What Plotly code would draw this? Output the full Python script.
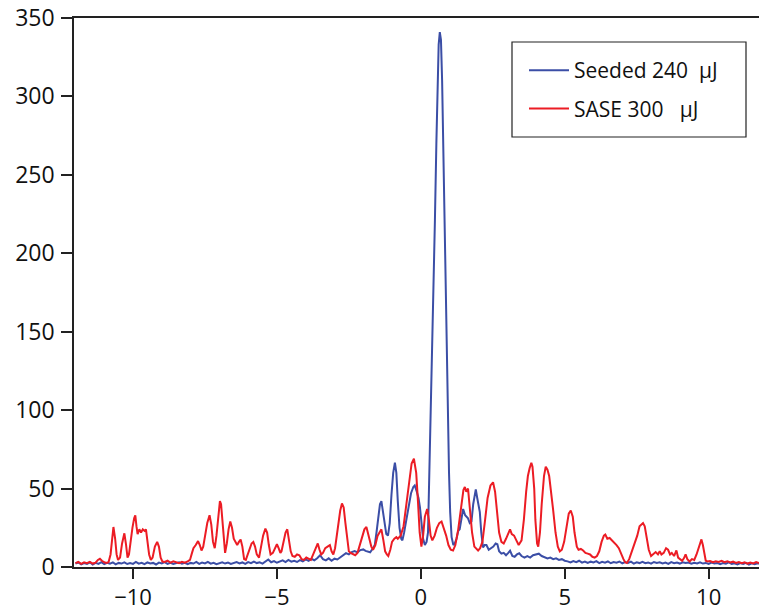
import plotly.graph_objects as go

# ---------------- data ----------------
seeded_x = [-12.00, -11.90, -11.80, -11.70, -11.60, -11.50, -11.40, -11.30, -11.20, -11.10,
            -11.00, -10.90, -10.80, -10.70, -10.60, -10.50, -10.40, -10.30, -10.20, -10.10,
            -10.00, -9.90, -9.80, -9.70, -9.60, -9.50, -9.40, -9.30, -9.20, -9.10,
            -9.00, -8.90, -8.80, -8.70, -8.60, -8.50, -8.40, -8.30, -8.20, -8.10,
            -8.00, -7.90, -7.80, -7.70, -7.60, -7.50, -7.40, -7.30, -7.20, -7.10,
            -7.00, -6.90, -6.80, -6.70, -6.60, -6.50, -6.40, -6.30, -6.20, -6.10,
            -6.00, -5.90, -5.80, -5.70, -5.60, -5.50, -5.40, -5.30, -5.20, -5.10,
            -5.00, -4.90, -4.80, -4.70, -4.60, -4.50, -4.40, -4.30, -4.20, -4.10,
            -4.00, -3.90, -3.80, -3.70, -3.60, -3.50, -3.40, -3.30, -3.20, -3.10,
            -3.00, -2.90, -2.80, -2.70, -2.60, -2.50, -2.40, -2.30, -2.20, -2.10,
            -2.00, -1.92, -1.84, -1.76, -1.68, -1.60, -1.54, -1.48, -1.42, -1.37,
            -1.32, -1.26, -1.20, -1.14, -1.08, -1.02, -0.96, -0.90, -0.85, -0.80,
            -0.74, -0.68, -0.64, -0.58, -0.50, -0.42, -0.34, -0.26, -0.21, -0.14,
            -0.08, -0.03, 0.02, 0.08, 0.14, 0.20, 0.25, 0.28, 0.32, 0.36,
            0.40, 0.45, 0.49, 0.54, 0.58, 0.62, 0.66, 0.70, 0.74, 0.78,
            0.82, 0.86, 0.90, 0.94, 0.98, 1.02, 1.07, 1.13, 1.18, 1.24,
            1.30, 1.35, 1.41, 1.47, 1.54, 1.64, 1.70, 1.76, 1.82, 1.87,
            1.91, 1.96, 2.05, 2.10, 2.16, 2.22, 2.28, 2.36, 2.44, 2.52,
            2.60, 2.66, 2.72, 2.80, 2.88, 2.96, 3.04, 3.10, 3.18, 3.26,
            3.34, 3.42, 3.50, 3.60, 3.70, 3.80, 3.90, 4.00, 4.10, 4.20,
            4.30, 4.40, 4.50, 4.60, 4.70, 4.80, 4.90, 5.00, 5.10, 5.20,
            5.30, 5.40, 5.50, 5.60, 5.70, 5.80, 5.90, 6.00, 6.10, 6.20,
            6.30, 6.40, 6.50, 6.60, 6.70, 6.80, 6.90, 7.00, 7.10, 7.20,
            7.30, 7.40, 7.50, 7.60, 7.70, 7.80, 7.90, 8.00, 8.10, 8.20,
            8.30, 8.40, 8.50, 8.60, 8.70, 8.80, 8.90, 9.00, 9.10, 9.20,
            9.30, 9.40, 9.50, 9.60, 9.70, 9.80, 9.90, 10.00, 10.10, 10.20,
            10.30, 10.40, 10.50, 10.60, 10.70, 10.80, 10.90, 11.00, 11.10, 11.20,
            11.30, 11.40, 11.50, 11.60, 11.70, 11.75]
seeded_y = [2.2, 2.9, 1.7, 2.5, 1.9, 3.0, 1.6, 2.6, 2.0, 3.1,
            1.8, 2.7, 2.1, 2.9, 1.7, 2.6, 2.2, 3.0, 1.9, 2.5,
            2.0, 3.2, 2.1, 2.7, 1.8, 2.9, 2.2, 2.6, 1.6, 2.8,
            2.3, 3.1, 2.0, 2.6, 1.9, 2.4, 3.0, 2.1, 2.7, 1.8,
            2.6, 2.2, 3.2, 2.0, 2.8, 2.3, 3.3, 2.1, 2.7, 1.8,
            2.5, 3.0, 2.2, 2.8, 1.9, 2.6, 3.2, 2.3, 2.9, 2.0,
            3.1, 2.4, 3.4, 2.5, 3.0, 2.2, 3.6, 4.8, 3.0, 3.8,
            2.7, 3.5, 4.2, 3.1, 4.5, 3.4, 4.0, 3.2, 4.4, 3.6,
            4.8, 3.9, 5.2, 4.3, 5.6, 7.5, 5.0, 4.2, 5.5, 4.0,
            5.3, 4.8, 6.0, 7.5, 8.8, 8.0, 9.5, 10.2, 9.3, 10.8,
            11.2, 10.3, 10.0, 9.4, 11.5, 14.0, 22.0, 32.0, 40.0, 42.0,
            36.0, 26.0, 21.0, 20.0, 28.0, 46.0, 60.0, 66.5, 60.0, 42.0,
            25.0, 18.0, 17.0, 22.0, 30.0, 40.0, 47.0, 51.0, 52.0, 48.0,
            44.0, 38.0, 30.0, 18.0, 14.0, 16.0, 22.0, 45.0, 80.0, 110.0,
            145.0, 190.0, 221.0, 270.0, 310.0, 333.0, 341.0, 336.0, 310.0, 270.0,
            220.0, 170.0, 125.0, 95.0, 60.0, 35.0, 19.0, 14.0, 15.0, 18.0,
            23.0, 24.0, 32.0, 37.0, 33.0, 31.0, 28.0, 29.0, 40.0, 47.0,
            49.5, 44.0, 35.0, 22.0, 12.5, 14.0, 14.0, 11.0, 12.0, 13.0,
            15.0, 14.5, 10.0, 8.5, 9.0, 7.5, 9.0, 10.4, 7.0, 6.5,
            8.0, 8.7, 7.0, 6.0, 7.0, 6.0, 7.5, 8.0, 8.5, 7.0,
            6.0, 5.5, 6.0, 5.0, 5.5, 4.5, 5.0, 4.0, 3.6, 2.9,
            3.8, 3.1, 4.0, 2.8, 3.5, 2.6, 3.4, 2.9, 3.7, 2.5,
            3.3, 2.8, 3.6, 2.4, 3.2, 2.7, 3.5, 2.3, 3.1, 2.6,
            3.4, 2.2, 3.0, 2.5, 3.3, 2.4, 2.9, 2.1, 3.2, 2.6,
            3.0, 2.3, 2.8, 2.0, 3.1, 2.4, 2.9, 2.2, 3.0, 2.5,
            2.8, 2.1, 2.7, 2.3, 3.0, 2.2, 2.6, 1.9, 2.8, 2.3,
            2.6, 1.8, 2.5, 2.1, 2.9, 2.0, 2.4, 1.7, 2.5, 1.9,
            2.6, 1.5, 2.3, 1.8, 2.4, 2.0]

sase_x = [-12.00, -11.90, -11.80, -11.70, -11.60, -11.50, -11.40, -11.30, -11.22, -11.15,
          -11.08, -11.00, -10.92, -10.85, -10.78, -10.72, -10.68, -10.62, -10.57, -10.52,
          -10.45, -10.38, -10.30, -10.24, -10.19, -10.14, -10.08, -10.02, -9.96, -9.92,
          -9.88, -9.84, -9.78, -9.72, -9.66, -9.60, -9.55, -9.50, -9.44, -9.38,
          -9.32, -9.24, -9.16, -9.10, -9.04, -8.98, -8.90, -8.80, -8.70, -8.60,
          -8.50, -8.40, -8.30, -8.20, -8.10, -8.02, -7.95, -7.90, -7.82, -7.74,
          -7.68, -7.62, -7.56, -7.50, -7.42, -7.34, -7.28, -7.22, -7.16, -7.10,
          -7.04, -6.98, -6.94, -6.90, -6.84, -6.80, -6.74, -6.68, -6.62, -6.56,
          -6.50, -6.44, -6.38, -6.32, -6.26, -6.20, -6.14, -6.08, -6.02, -5.95,
          -5.88, -5.82, -5.76, -5.70, -5.62, -5.56, -5.48, -5.40, -5.34, -5.28,
          -5.22, -5.14, -5.06, -5.00, -4.94, -4.88, -4.84, -4.78, -4.70, -4.64,
          -4.58, -4.52, -4.46, -4.38, -4.30, -4.22, -4.14, -4.06, -3.98, -3.90,
          -3.82, -3.74, -3.66, -3.58, -3.52, -3.46, -3.40, -3.32, -3.24, -3.16,
          -3.10, -3.04, -2.98, -2.92, -2.86, -2.80, -2.74, -2.68, -2.62, -2.56,
          -2.50, -2.44, -2.36, -2.28, -2.20, -2.12, -2.04, -1.96, -1.89, -1.84,
          -1.78, -1.72, -1.66, -1.58, -1.50, -1.42, -1.37, -1.30, -1.24, -1.18,
          -1.13, -1.06, -1.00, -0.92, -0.85, -0.80, -0.70, -0.60, -0.50, -0.40,
          -0.32, -0.24, -0.16, -0.10, -0.04, 0.02, 0.08, 0.14, 0.22, 0.28,
          0.34, 0.40, 0.48, 0.56, 0.64, 0.72, 0.80, 0.88, 0.96, 1.04,
          1.12, 1.20, 1.30, 1.40, 1.48, 1.53, 1.58, 1.64, 1.70, 1.78,
          1.86, 1.94, 1.99, 2.06, 2.14, 2.22, 2.32, 2.42, 2.51, 2.58,
          2.64, 2.72, 2.80, 2.88, 2.96, 3.04, 3.10, 3.16, 3.24, 3.32,
          3.40, 3.50, 3.58, 3.66, 3.72, 3.78, 3.84, 3.88, 3.94, 3.98,
          4.04, 4.08, 4.14, 4.20, 4.28, 4.34, 4.40, 4.46, 4.52, 4.60,
          4.68, 4.76, 4.83, 4.90, 4.98, 5.06, 5.14, 5.21, 5.28, 5.34,
          5.42, 5.48, 5.56, 5.64, 5.72, 5.80, 5.88, 5.96, 6.04, 6.12,
          6.20, 6.28, 6.36, 6.41, 6.48, 6.56, 6.64, 6.72, 6.80, 6.88,
          6.96, 7.04, 7.10, 7.16, 7.24, 7.32, 7.42, 7.52, 7.60, 7.68,
          7.72, 7.78, 7.84, 7.92, 8.00, 8.08, 8.16, 8.24, 8.30, 8.36,
          8.44, 8.52, 8.59, 8.66, 8.72, 8.80, 8.88, 8.94, 9.00, 9.08,
          9.14, 9.20, 9.26, 9.34, 9.42, 9.50, 9.58, 9.64, 9.70, 9.75,
          9.80, 9.85, 9.90, 9.96, 10.05, 10.15, 10.25, 10.35, 10.45, 10.55,
          10.65, 10.75, 10.85, 10.95, 11.05, 11.15, 11.25, 11.35, 11.45, 11.55,
          11.65, 11.75]
sase_y = [2.5, 3.2, 2.0, 3.0, 2.4, 3.3, 2.2, 2.8, 4.5, 5.2,
          4.0, 3.0, 2.6, 3.0, 8.0, 20.0, 25.5, 18.0, 8.0, 4.5,
          6.0, 15.0, 21.5, 14.0, 6.0, 8.0, 18.0, 25.0, 31.0, 33.0,
          26.0, 21.0, 24.0, 22.0, 24.0, 23.0, 24.0, 16.0, 8.0, 4.5,
          6.0, 13.0, 16.0, 13.0, 6.0, 3.5, 3.2, 4.0, 2.8, 3.6,
          3.0, 2.4, 3.3, 2.7, 3.6, 4.5, 9.0, 12.0, 14.0, 16.5,
          14.0, 10.5, 13.0, 20.0, 28.0, 33.0, 27.0, 16.0, 12.0, 20.0,
          32.0, 42.0, 40.0, 30.0, 17.0, 9.0, 15.0, 24.0, 29.0, 25.0,
          18.0, 16.0, 14.0, 16.0, 17.5, 13.0, 5.0, 4.5, 8.0, 12.0,
          15.0, 16.0, 13.0, 8.0, 6.0, 12.0, 20.0, 24.5, 22.0, 14.0,
          8.0, 9.0, 12.0, 14.5, 12.0, 9.0, 10.0, 16.0, 22.0, 24.0,
          18.0, 10.0, 7.0, 6.5, 8.0, 7.5, 5.0, 4.5, 6.0, 5.0,
          4.5, 8.0, 12.0, 15.0, 11.0, 8.0, 9.0, 12.0, 13.0, 14.0,
          10.0, 8.0, 12.0, 20.0, 30.0, 36.0, 40.5, 38.0, 28.0, 17.0,
          10.0, 9.0, 8.0, 7.5, 9.0, 14.0, 20.0, 24.0, 25.5, 22.0,
          16.0, 13.0, 11.0, 14.0, 20.0, 23.0, 24.0, 17.0, 10.0, 8.0,
          7.0, 11.0, 16.0, 18.0, 19.0, 18.0, 20.0, 26.0, 40.0, 57.0,
          66.0, 69.0, 60.0, 42.0, 22.0, 13.0, 20.0, 32.0, 37.0, 30.0,
          20.0, 17.0, 20.0, 25.0, 28.0, 29.0, 25.0, 20.0, 14.0, 11.0,
          10.5, 14.0, 24.0, 40.0, 49.0, 51.0, 48.0, 50.0, 38.0, 22.0,
          13.0, 11.0, 10.5, 12.0, 16.0, 28.0, 44.0, 52.0, 54.0, 48.0,
          36.0, 22.0, 16.0, 15.0, 18.0, 22.0, 24.0, 21.0, 20.0, 17.0,
          14.0, 17.0, 30.0, 48.0, 58.0, 63.0, 66.5, 64.0, 50.0, 30.0,
          15.0, 13.0, 22.0, 40.0, 58.0, 64.0, 62.0, 58.0, 50.0, 36.0,
          22.0, 13.0, 10.0, 11.0, 16.0, 26.0, 34.0, 36.0, 32.0, 22.0,
          13.0, 11.0, 11.5, 10.5, 9.0, 8.5, 8.0, 6.5, 6.0, 7.0,
          10.0, 16.0, 20.0, 20.7, 18.0, 18.5, 17.0, 16.0, 14.0, 12.0,
          8.0, 5.0, 3.0, 2.5, 5.0, 9.0, 14.0, 20.0, 26.0, 27.0,
          28.0, 26.0, 19.0, 11.0, 7.0, 8.0, 9.5, 8.0, 10.0, 8.0,
          9.0, 12.0, 11.0, 8.0, 9.0, 7.0, 10.6, 6.0, 5.0, 4.0,
          5.5, 8.0, 5.0, 3.5, 5.0, 4.5, 8.0, 12.0, 15.0, 17.6,
          14.0, 9.0, 4.0, 3.5, 3.8, 3.0, 3.6, 3.2, 4.0, 3.1,
          3.7, 2.9, 3.4, 2.6, 3.2, 2.4, 3.0, 2.2, 2.9, 2.3,
          3.1, 2.5]

series_names = ["Seeded 240\u00a0\u00a0\u03bcJ", "SASE 300\u00a0\u00a0\u00a0\u03bcJ"]
series_colors = ["#3b4ea6", "#ec1c24"]
y_ticks = [0, 50, 100, 150, 200, 250, 300, 350]
x_ticks = [-10, -5, 0, 5, 10]

# ---------------- figure ----------------
W, H = 759, 610
ML, MR, MT, MB = 74, 0, 18, 43

fig = go.Figure()
fig.add_trace(go.Scatter(x=seeded_x, y=seeded_y, mode="lines", name=series_names[0],
                         legendgroup="a", line=dict(color=series_colors[0], width=2)))
fig.add_trace(go.Scatter(x=sase_x, y=sase_y, mode="lines", name=series_names[1],
                         legendgroup="b", line=dict(color=series_colors[1], width=2)))

font = dict(family="Open Sans, Noto Sans, sans-serif", size=23, color="#111111")
xfont = dict(family="Open Sans, Noto Sans, sans-serif", size=22, color="#111111")

pw = W - ML - MR
ph = H - MT - MB
bx0, bx1, by0, by1 = 512, 746, 42, 137
fig.add_shape(type="rect", xref="paper", yref="paper",
              x0=(bx0 - ML) / pw, x1=(bx1 - ML) / pw,
              y0=(H - MB - by1) / ph, y1=(H - MB - by0) / ph,
              line=dict(color="#222222", width=1.2), fillcolor="white", layer="below")

fig.update_layout(
    width=W, height=H,
    margin=dict(l=ML, r=MR, t=MT, b=MB, pad=0, autoexpand=False),
    paper_bgcolor="white", plot_bgcolor="white",
    font=font,
    showlegend=True,
    legend=dict(x=(524 - ML) / pw, y=(H - MB - 50) / ph, xanchor="left", yanchor="top",
                bgcolor="rgba(0,0,0,0)", borderwidth=0, itemwidth=40,
                font=dict(family="Open Sans, Noto Sans, sans-serif", size=21, color="#111111"),
                tracegroupgap=8, traceorder="grouped"),
    xaxis=dict(range=[-12.05, 11.75], tickvals=x_ticks, ticks="outside", ticklen=10,
               tickwidth=1.5, tickcolor="#222222", showline=True, linecolor="#222222",
               linewidth=1.5, mirror=True, showgrid=False, zeroline=False, automargin=False,
               ticklabelstandoff=0, tickfont=xfont),
    yaxis=dict(range=[0, 350], tickvals=y_ticks, ticks="outside", ticklen=11,
               tickwidth=1.5, tickcolor="#222222", showline=True, linecolor="#222222",
               linewidth=1.5, showgrid=False, zeroline=False, automargin=False,
               ticklabelstandoff=2, tickfont=font),
)

fig.write_html("out.html")
